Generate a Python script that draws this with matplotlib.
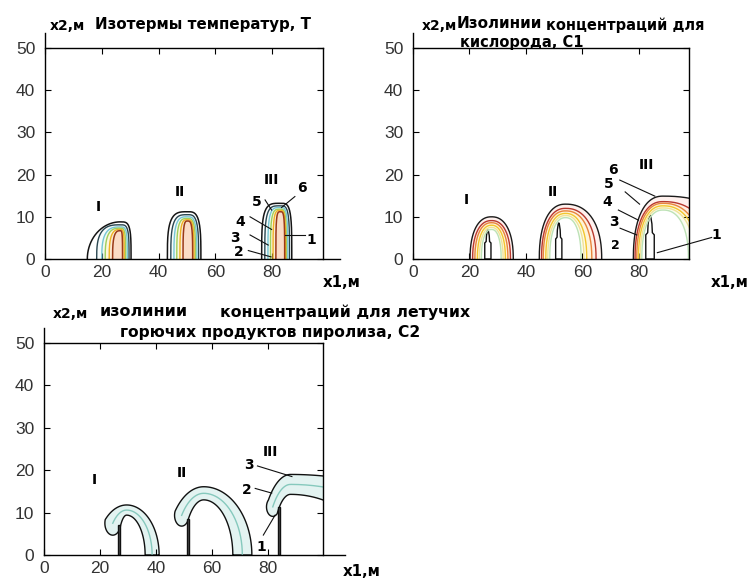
import numpy as np
import matplotlib
matplotlib.use('Agg')
import matplotlib.pyplot as plt

plt.rcParams['font.family'] = ['Liberation Sans', 'DejaVu Sans']
BOLD = ['DejaVu Sans']

# Isotherms T: three sources (I, II, III), levels 6 (outer) .. 1 (core)
t_left = [[14.9, 18.2, 20.0, 21.2, 22.6, 23.8],
          [43.1, 44.3, 45.4, 46.4, 47.5, 48.6],
          [76.3, 77.4, 78.5, 79.4, 80.3, 81.3]]
t_right = [[30.3, 29.6, 29.0, 28.4, 27.9, 27.3],
           [54.9, 54.1, 53.5, 53.0, 52.5, 52.0],
           [86.9, 86.1, 85.5, 85.0, 84.7, 84.4]]
t_top = [[8.8, 8.1, 7.6, 7.3, 7.0, 6.7],
         [11.2, 10.5, 10.0, 9.6, 9.3, 9.0],
         [13.2, 12.6, 12.2, 11.8, 11.5, 11.2]]
t_peak = [26.5, 50.2, 82.9]

# Oxygen C1 isolines, levels 6 .. 2, plus the burning object (level 1)
c1_left = [[20.2, 21.1, 21.9, 22.8, 23.5, 24.2],
           [44.7, 45.5, 46.1, 47.0, 47.7, 48.4],
           [78.0, 78.6, 79.2, 79.8, 80.4, 81.0]]
c1_right = [[35.5, 34.5, 33.6, 32.7, 31.9, 31.2],
            [66.8, 64.8, 63.3, 61.5, 60.5, 59.5],
            [117.0, 105.6, 102.0, 100.6, 99.5, 97.5]]
c1_top = [[10.0, 9.1, 8.6, 8.0, 7.5, 7.0],
          [13.0, 12.0, 11.4, 10.8, 10.3, 9.8],
          [14.9, 13.6, 13.2, 12.6, 12.1, 11.6]]
c1_peak = [27.8, 54.0, 88.5]
c1_post_x = [26.5, 51.6, 83.9]
c1_post_w = [1.1, 1.1, 1.5]
c1_post_h = [6.9, 8.6, 10.4]

# Pyrolysis products C2: curled plumes (outer / inner isoline) and the posts
c2_xc = [29.5, 57.0, 88.0]
c2_out_top = [11.8, 16.1, 19.0]
c2_out_l = [10.8, 13.3, 10.8]
c2_out_r = [11.6, 17.2, 60.0]
c2_in_top = [9.4, 13.0, 14.3]
c2_in_l = [3.2, 7.2, 6.5]
c2_in_r = [6.6, 10.4, 27.6]
c2_turn = [135, 140, 137]
c2_post_x = [26.8, 51.5, 84.0]
c2_post_h = [7.1, 8.5, 11.3]

roman = ['I', 'II', 'III']
t_roman_xy = [(18.9, 12.4), (47.5, 15.9), (79.8, 18.7)]
c1_roman_xy = [(18.7, 14.0), (49.5, 15.9), (82.7, 22.3)]
c2_roman_xy = [(18.0, 17.6), (49.2, 19.3), (80.7, 24.4)]

# level number, text position, leader start, leader end
t_marks = [('6', (90.4, 16.8), (88.0, 14.8), (83.3, 12.2)),
           ('5', (74.5, 13.6), (77.5, 14.0), (79.8, 11.6)),
           ('4', (68.7, 8.8), (72.2, 10.0), (79.8, 7.0)),
           ('3', (66.9, 4.9), (72.2, 5.7), (78.6, 3.3)),
           ('2', (68.1, 1.6), (71.6, 2.0), (79.6, 0.5)),
           ('1', (93.9, 4.5), (91.5, 5.7), (84.4, 5.7))]
c1_marks = [('6', (70.7, 21.1), (73.2, 18.7), (85.6, 14.9)),
            ('5', (69.2, 17.7), (75.1, 15.9), (80.2, 13.0)),
            ('4', (68.8, 13.6), (72.7, 11.6), (79.8, 9.2)),
            ('3', (71.2, 8.8), (73.3, 7.3), (79.2, 5.7)),
            ('2', (71.6, 3.3), None, None),
            ('1', (107.5, 5.7), (105.7, 5.1), (86.5, 1.5))]
c2_marks = [('3', (73.0, 21.2), (76.2, 21.0), (88.5, 18.5)),
            ('2', (72.4, 15.3), (75.4, 15.7), (81.3, 14.6)),
            ('1', (77.7, 2.0), (78.3, 4.7), (82.5, 9.4))]

t_colors = ['#151515', '#2a4650', '#76c6d6', '#a0cf5c', '#efb224', '#9a3a18']
t_fills = ['#ffffff', '#f6fbfb', '#f3f9ee', '#fdf6dd', '#fcead2', '#fadcc6']
c1_colors = ['#1a1a1a', '#b8382e', '#e8843c', '#f2c62e', '#efe398', '#bde2b6']
c1_fills = ['#fff1ee', '#ffeee2', '#fff4d8', '#fffae6', '#fcfdf2', '#ffffff']


def arch(xl, xr, top, xp, nl, nr, num=160):
    t = np.linspace(np.pi, 0, num)
    c, s = np.cos(t), np.sin(t)
    n = np.where(c < 0, nl, nr)
    a = np.where(c < 0, xp - xl, xr - xp)
    x = xp + a * np.sign(c) * np.abs(c) ** (2 / n)
    y = top * np.abs(s) ** (2 / n)
    return x, y


def half_ellipse(xc, top, al, ar, th):
    a = np.where(np.cos(th) >= 0, ar, al)
    return xc + a * np.cos(th), top * np.sin(th)


def plume(i):
    th = np.radians(np.linspace(0, c2_turn[i], 160))
    xo, yo = half_ellipse(c2_xc[i], c2_out_top[i], c2_out_l[i], c2_out_r[i], th)
    xi, yi = half_ellipse(c2_xc[i], c2_in_top[i], c2_in_l[i], c2_in_r[i], th)
    po, pi = np.array([xo[-1], yo[-1]]), np.array([xi[-1], yi[-1]])
    m = (po + pi) / 2
    r = np.linalg.norm(po - pi) / 2
    u = (po - m) / r
    t = th[-1]
    tang = np.array([-c2_out_l[i] * np.sin(t), c2_out_top[i] * np.cos(t)])
    v = tang - np.dot(tang, u) * u
    v /= np.linalg.norm(v)
    phi = np.linspace(0, np.pi, 40)
    cx = m[0] + r * (np.cos(phi) * u[0] + np.sin(phi) * v[0])
    cy = m[1] + r * (np.cos(phi) * u[1] + np.sin(phi) * v[1])
    xm, ym = half_ellipse(c2_xc[i], (c2_out_top[i] + c2_in_top[i]) / 2,
                          (c2_out_l[i] + c2_in_l[i]) / 2,
                          (c2_out_r[i] + c2_in_r[i]) / 2, th)
    return (np.concatenate([xo, cx, xi[::-1]]),
            np.concatenate([yo, cy, yi[::-1]]), xm, ym)


def spike(xc, w, h):
    xs = xc + w * np.array([-1, -1, -0.55, -0.45, -0.2, 0, 0.2, 0.45, 0.55, 1, 1])
    ys = h * np.array([0, 0.55, 0.6, 0.8, 0.95, 1, 0.95, 0.8, 0.6, 0.55, 0])
    return xs, ys


def style_axes(ax, xmax, xline):
    ax.set_xlim(0, xmax)
    ax.set_ylim(0, 50)
    ax.set_xticks([0, 20, 40, 60, 80])
    ax.set_yticks([0, 10, 20, 30, 40, 50])
    ax.tick_params(direction='in', length=4, width=0.8, top=True, right=True,
                   labelsize=12.5, labelcolor='#333333')
    ax.tick_params(axis='y', pad=7)
    ax.tick_params(axis='x', pad=4)
    for tk in ax.xaxis.get_major_ticks():
        tk.tick2line.set_color('#cccccc')
    for sp in ax.spines.values():
        sp.set_linewidth(1.0)
    ax.spines['left'].set_bounds(0, 53.5)
    ax.spines['bottom'].set_bounds(0, xline)
    for sp in ('left', 'bottom'):
        ax.spines[sp].set_clip_on(False)


def put_labels(ax, romans, marks, small=()):
    for name, (x, y) in zip(roman, romans):
        ax.text(x, y, name, ha='center', va='center', fontsize=10,
                fontweight='bold', family=BOLD)
    for name, xy, p0, p1 in marks:
        fs = 9 if name in small else 10
        ax.text(xy[0], xy[1], name, ha='center', va='center', fontsize=fs,
                fontweight='bold', family=BOLD, clip_on=False)
        if p0 is not None:
            ax.plot([p0[0], p1[0]], [p0[1], p1[1]], color='#111111', lw=0.8,
                    clip_on=False)


fig = plt.figure(figsize=(7.49, 5.80), dpi=100)


def fpos(px, py):
    return px / 749, 1 - py / 580


# Isotherms
ax1 = fig.add_axes([45 / 749, 1 - 259 / 580, 278 / 749, 211 / 580])
shapes = [(2.0, 4.0), (3.5, 3.5), (4.0, 4.0)]
for i in range(3):
    nl, nr = shapes[i]
    for k in range(6):
        x, y = arch(t_left[i][k], t_right[i][k], t_top[i][k], t_peak[i],
                    nl if k == 0 else max(nl, 3.0), nr)
        ax1.fill(x, y, color=t_fills[k], lw=0)
        ax1.plot(x, y, color=t_colors[k], lw=1.1 if k in (0, 5) else 1.0)
style_axes(ax1, 97.9, 104)
put_labels(ax1, t_roman_xy, t_marks)

# Oxygen
ax2 = fig.add_axes([413 / 749, 1 - 259 / 580, 276 / 749, 211 / 580])
for i in range(3):
    for k in range(6):
        x, y = arch(c1_left[i][k], c1_right[i][k], c1_top[i][k], c1_peak[i],
                    2.3, 2.3)
        ax2.fill(x, y, color=c1_fills[k], lw=0)
        ax2.plot(x, y, color=c1_colors[k], lw=1.0)
    sx, sy = spike(c1_post_x[i], c1_post_w[i], c1_post_h[i])
    ax2.fill(sx, sy, facecolor='white', edgecolor='#111111', lw=1.0)
style_axes(ax2, 97.7, 97.7)
put_labels(ax2, c1_roman_xy, c1_marks, small=('2',))

# Pyrolysis products
ax3 = fig.add_axes([44 / 749, 1 - 555 / 580, 279 / 749, 212 / 580])
for i in range(3):
    bx, by, mx, my = plume(i)
    ax3.fill(bx, by, facecolor='#e3f3f1', edgecolor='#111111', lw=1.0)
    ax3.plot(mx, my, color='#86c9bd', lw=1.0)
    px0 = c2_post_x[i]
    ax3.fill([px0 - 0.35, px0 - 0.35, px0 + 0.35, px0 + 0.35],
             [0, c2_post_h[i], c2_post_h[i], 0],
             facecolor='#555555', edgecolor='#111111', lw=1.0)
style_axes(ax3, 99.6, 107.5)
put_labels(ax3, c2_roman_xy, c2_marks)

# Titles and axis captions
ttl = dict(fontweight='bold', family=BOLD, va='center', ha='left')
fig.text(*fpos(50, 26), 'x2,м', fontsize=10, **ttl)
fig.text(*fpos(95, 24), 'Изотермы температур, Т', fontsize=10.8, **ttl)
fig.text(*fpos(422, 26), 'x2,м', fontsize=10, **ttl)
fig.text(*fpos(457, 23), 'Изолинии', fontsize=11, **ttl)
fig.text(*fpos(546, 25), 'концентраций для', fontsize=10.5, **ttl)
fig.text(*fpos(460, 43), 'кислорода, С1', fontsize=10.5, **ttl)
fig.text(*fpos(53, 314), 'x2,м', fontsize=10, **ttl)
fig.text(*fpos(100, 312), 'изолинии', fontsize=11.5, **ttl)
fig.text(*fpos(220, 312), 'концентраций для летучих', fontsize=11.3, **ttl)
fig.text(*fpos(120, 333), 'горючих продуктов пиролиза, С2', fontsize=11.2, **ttl)
fig.text(*fpos(323, 283), 'x1,м', fontsize=10.8, **ttl)
fig.text(*fpos(711, 283), 'x1,м', fontsize=10.8, **ttl)
fig.text(*fpos(343, 571), 'x1,м', fontsize=10.8, **ttl)

fig.savefig('out.png', dpi=100)
